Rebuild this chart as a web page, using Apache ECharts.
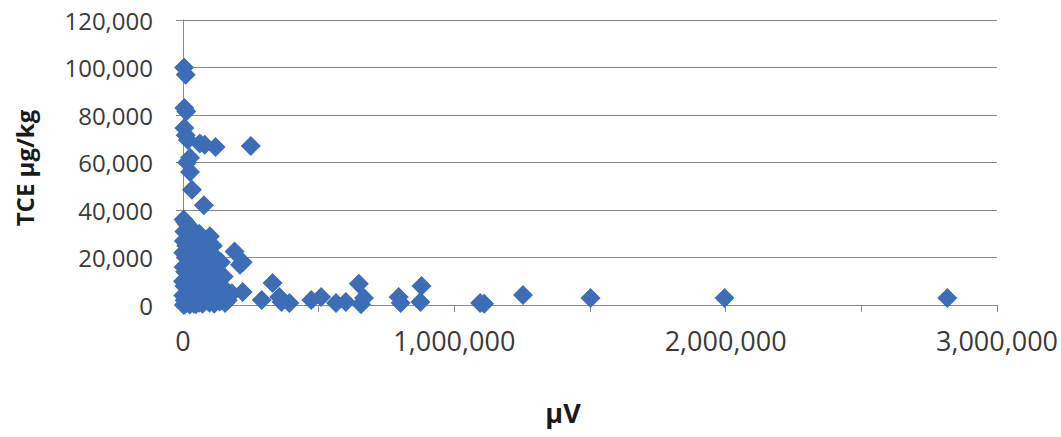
<!DOCTYPE html>
<html>
<head>
<meta charset="utf-8">
<script src="https://cdn.jsdelivr.net/npm/echarts@6/dist/echarts.min.js"></script>
<style>
html,body{margin:0;padding:0;background:#fff;}
#chart{width:1061px;height:437px;}
</style>
</head>
<body>
<div id="chart"></div>
<script>
// µV values (x) and TCE µg/kg values (y)
const uV = [
  4000, 10000, 5000, 12000, 5000, 10000, 18000, 62000, 80000, 120000, 250000,
  26000, 15000, 26000, 33000, 77000,
  2000, 8000, 15000, 25000, 5000, 18000, 30000, 45000, 60000, 99000, 75000, 90000, 110000,
  3000, 12000, 22000, 35000, 50000, 65000, 80000, 100000, 120000, 140000, 190000, 210000, 220000,
  1000, 10000, 20000, 30000, 42000, 55000, 70000, 85000, 95000, 110000, 130000, 150000,
  2000, 8000, 18000, 28000, 40000, 52000, 63000, 75000, 88000, 100000, 120000, 140000, 160000, 180000, 220000,
  0, 5000, 15000, 25000, 35000, 45000, 55000, 68000, 80000, 92000, 105000, 125000, 145000, 165000,
  1000, 6000, 12000, 20000, 30000, 40000, 50000, 60000, 72000, 85000, 98000, 115000, 135000, 155000,
  3000, 10000, 25000, 48000,
  290000, 330000, 355000, 363000, 392000, 473000, 509000, 564000, 600000, 648000, 667000, 656000,
  795000, 802000, 879000, 875000, 1095000, 1110000, 1253000, 1502000, 1996000, 2817000
];
const tce = [
  100000, 97000, 83000, 81500, 74500, 71500, 69500, 68000, 67500, 66500, 67000,
  62000, 60000, 56000, 48500, 42000,
  36000, 35000, 34000, 33000, 31000, 30000, 31000, 29000, 30000, 29000, 27000, 26000, 25000,
  27000, 25000, 26000, 24000, 25000, 23000, 22000, 21000, 20000, 18000, 22500, 17000, 18000,
  22000, 20000, 21000, 19000, 20000, 18000, 17000, 16000, 15000, 14000, 13000, 12000,
  16000, 14000, 15000, 13000, 14000, 12000, 11000, 12000, 10000, 9000, 8000, 7000, 6000, 5000, 5500,
  10000, 8000, 9000, 7000, 8000, 6000, 7000, 5000, 6000, 4000, 3000, 4000, 3000, 2000,
  4000, 2000, 3000, 1000, 2000, 500, 3000, 1000, 500, 2000, 1000, 500, 1500, 800,
  0, 500, 200, 300,
  2100, 9300, 3400, 1300, 800, 2100, 3400, 800, 1300, 9000, 3000, 300,
  3400, 800, 8000, 1300, 800, 500, 4200, 3000, 3000, 3000
];
const xTickLabels = ['0', '1,000,000', '2,000,000', '3,000,000'];
const yTickLabels = ['0', '20,000', '40,000', '60,000', '80,000', '100,000', '120,000'];

const points = uV.map((v, i) => [v, tce[i]]);
const fmt = v => Number(v).toLocaleString('en-US');

const chart = echarts.init(document.getElementById('chart'), null, {renderer: 'svg'});
chart.setOption({
  animation: false,
  backgroundColor: '#ffffff',
  grid: {left: 183, right: 59, top: 20, bottom: 132, containLabel: false},
  xAxis: {
    type: 'value', min: 0, max: 3000000, interval: 500000,
    axisLine: {show: true, lineStyle: {color: '#8a8a8a', width: 1}},
    axisTick: {show: true, length: 7, lineStyle: {color: '#8a8a8a'}},
    splitLine: {show: false},
    axisLabel: {
      margin: 22, color: '#3a3a3a', fontSize: 27, fontFamily: 'Open Sans',
      formatter: v => (v % 1000000 === 0 ? xTickLabels[v / 1000000] : '')
    }
  },
  yAxis: {
    type: 'value', min: 0, max: 120000, interval: 20000,
    axisLine: {show: true, lineStyle: {color: '#8a8a8a', width: 1}},
    axisTick: {show: true, length: 7, lineStyle: {color: '#8a8a8a'}},
    splitLine: {show: true, lineStyle: {color: '#8a8a8a', width: 1}},
    axisLabel: {
      margin: 30, color: '#3a3a3a', fontSize: 24, fontFamily: 'Open Sans',
      formatter: v => yTickLabels[v / 20000]
    }
  },
  series: [{
    type: 'scatter',
    data: points,
    symbol: 'diamond',
    symbolSize: 20,
    itemStyle: {color: '#3d6db7', opacity: 1}
  }],
  graphic: [
    {type: 'text', left: null, x: 563, y: 412,
     style: {text: 'µV', fontSize: 27, fontWeight: 'bold', fontFamily: 'Open Sans', fill: '#1a1a1a', align: 'center', verticalAlign: 'middle'}},
    {type: 'text', x: 24, y: 168, rotation: Math.PI / 2,
     style: {text: 'TCE µg/kg', fontSize: 24, fontWeight: 'bold', fontFamily: 'Open Sans', fill: '#1a1a1a', align: 'center', verticalAlign: 'middle'}}
  ]
});
</script>
</body>
</html>
